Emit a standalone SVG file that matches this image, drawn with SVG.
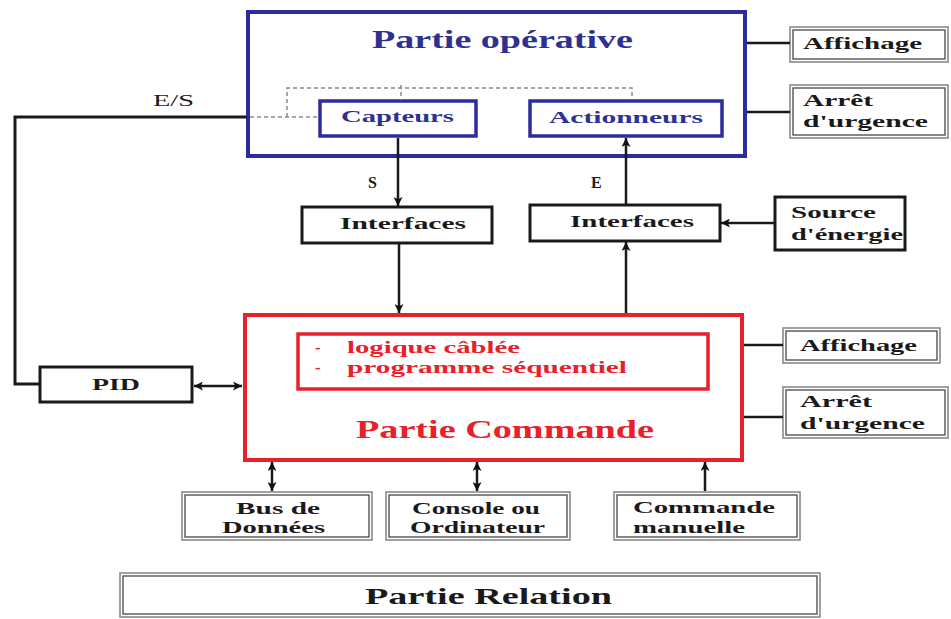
<svg xmlns="http://www.w3.org/2000/svg" width="951" height="619" viewBox="0 0 951 619">
<defs>
<marker id="ah" viewBox="0 0 10 10" refX="10" refY="5" markerWidth="10" markerHeight="9" markerUnits="userSpaceOnUse" orient="auto-start-reverse">
<path d="M0,0 L10,5 L0,10 L2.5,5 z" fill="#111"/>
</marker>
</defs>
<style>
text{font-family:"Liberation Serif","Times New Roman",serif;font-weight:bold;}
.blue{fill:#2e3192;}
.red{fill:#e8202a;}
.blk{fill:#1a1a1a;}
.t26{font-size:26px;}
.t24{font-size:24px;}
.t17{font-size:17px;}
.t16{font-size:16px;}
.bbox{fill:#fff;stroke:#2b2d9c;}
.rbox{fill:#fff;stroke:#e8202a;}
.kbox{fill:#fff;stroke:#1a1a1a;stroke-width:3;}
.dbo{fill:#fff;stroke:#8a8a8a;stroke-width:1.6;}
.dbi{fill:none;stroke:#555;stroke-width:1.4;}
.ln{fill:none;stroke:#1a1a1a;stroke-width:2.5;}
.dash{fill:none;stroke:#8a8a8a;stroke-width:1.5;stroke-dasharray:4 3;}
</style>
<rect width="951" height="619" fill="#fff"/>

<g id="partie-operative">
<rect class="bbox" x="248" y="12" width="497" height="144" stroke-width="4"/>
<text class="blue t26" x="372" y="48" textLength="261" lengthAdjust="spacingAndGlyphs">Partie opérative</text>
</g>
<g id="capteurs">
<rect class="bbox" x="320" y="101" width="156" height="35" stroke-width="3.5"/>
<text class="blue t17" x="341" y="122" textLength="113" lengthAdjust="spacingAndGlyphs">Capteurs</text>
</g>
<g id="actionneurs">
<rect class="bbox" x="530" y="101" width="192" height="35" stroke-width="3.5"/>
<text class="blue t17" x="549" y="123" textLength="154" lengthAdjust="spacingAndGlyphs">Actionneurs</text>
</g>

<g id="affichage-1">
<rect class="dbo" x="790" y="27" width="158" height="35"/>
<rect class="dbi" x="793" y="30" width="152" height="29"/>
<text class="blk t17" x="803" y="49" textLength="119" lengthAdjust="spacingAndGlyphs">Affichage</text>
</g>
<g id="arret-1">
<rect class="dbo" x="790" y="85" width="158" height="53"/>
<rect class="dbi" x="793" y="88" width="152" height="47"/>
<text class="blk t17" x="803" y="106" textLength="70" lengthAdjust="spacingAndGlyphs">Arrêt</text>
<text class="blk t17" x="803" y="127" textLength="125" lengthAdjust="spacingAndGlyphs">d'urgence</text>
</g>

<g id="interfaces-s">
<rect class="kbox" x="302" y="207" width="190" height="36"/>
<text class="blk t17" x="340" y="229" textLength="126" lengthAdjust="spacingAndGlyphs">Interfaces</text>
</g>
<g id="interfaces-e">
<rect class="kbox" x="530" y="205" width="190" height="36"/>
<text class="blk t17" x="570" y="227" textLength="124" lengthAdjust="spacingAndGlyphs">Interfaces</text>
</g>
<g id="source-energie">
<rect class="kbox" x="775" y="197" width="130" height="53"/>
<text class="blk t17" x="791" y="218" textLength="85" lengthAdjust="spacingAndGlyphs">Source</text>
<text class="blk t17" x="791" y="240" textLength="112" lengthAdjust="spacingAndGlyphs">d'énergie</text>
</g>

<g id="partie-commande">
<rect class="rbox" x="245" y="315" width="497" height="145" stroke-width="4"/>
<rect class="rbox" x="298" y="334" width="410" height="55" stroke-width="3.5"/>
<text class="red t17" x="315" y="353">-</text>
<text class="red t17" x="347" y="353" textLength="173" lengthAdjust="spacingAndGlyphs">logique câblée</text>
<text class="red t17" x="315" y="373">-</text>
<text class="red t17" x="347" y="373" textLength="280" lengthAdjust="spacingAndGlyphs">programme séquentiel</text>
<text class="red t26" x="356" y="438" textLength="298" lengthAdjust="spacingAndGlyphs">Partie Commande</text>
</g>

<g id="pid">
<rect class="kbox" x="40" y="367" width="152" height="35"/>
<text class="blk t16" x="92" y="390" textLength="48" lengthAdjust="spacingAndGlyphs">PID</text>
</g>

<g id="affichage-2">
<rect class="dbo" x="783" y="328" width="157" height="35"/>
<rect class="dbi" x="786" y="331" width="151" height="29"/>
<text class="blk t17" x="800" y="351" textLength="117" lengthAdjust="spacingAndGlyphs">Affichage</text>
</g>
<g id="arret-2">
<rect class="dbo" x="783" y="387" width="165" height="51"/>
<rect class="dbi" x="786" y="390" width="159" height="45"/>
<text class="blk t17" x="800" y="407" textLength="72" lengthAdjust="spacingAndGlyphs">Arrêt</text>
<text class="blk t17" x="800" y="429" textLength="125" lengthAdjust="spacingAndGlyphs">d'urgence</text>
</g>

<g id="bus-donnees">
<rect class="dbo" x="182" y="492" width="190" height="48"/>
<rect class="dbi" x="185" y="495" width="184" height="42"/>
<text class="blk t17" x="236" y="514" textLength="84" lengthAdjust="spacingAndGlyphs">Bus de</text>
<text class="blk t17" x="222" y="533" textLength="103" lengthAdjust="spacingAndGlyphs">Données</text>
</g>
<g id="console">
<rect class="dbo" x="386" y="492" width="184" height="48"/>
<rect class="dbi" x="389" y="495" width="178" height="42"/>
<text class="blk t17" x="412" y="514" textLength="128" lengthAdjust="spacingAndGlyphs">Console ou</text>
<text class="blk t17" x="410" y="533" textLength="135" lengthAdjust="spacingAndGlyphs">Ordinateur</text>
</g>
<g id="commande-manuelle">
<rect class="dbo" x="614" y="492" width="186" height="48"/>
<rect class="dbi" x="617" y="495" width="180" height="42"/>
<text class="blk t17" x="633" y="513" textLength="142" lengthAdjust="spacingAndGlyphs">Commande</text>
<text class="blk t17" x="633" y="533" textLength="112" lengthAdjust="spacingAndGlyphs">manuelle</text>
</g>

<g id="partie-relation">
<rect class="dbo" x="120" y="573" width="700" height="44"/>
<rect class="dbi" x="123" y="576" width="694" height="38"/>
<text class="blk t24" x="365" y="604" textLength="247" lengthAdjust="spacingAndGlyphs">Partie Relation</text>
</g>

<g id="connectors">
<polyline class="ln" points="247,117 15,117 15,384 40,384" style="stroke-width:3"/>
<path class="dash" d="M250,117 H320 M287,117 V88 H632 V100 M401,85 V100"/>
<line class="ln" x1="747" y1="43" x2="790" y2="43"/>
<line class="ln" x1="747" y1="112" x2="790" y2="112"/>
<line class="ln" x1="744" y1="345" x2="783" y2="345"/>
<line class="ln" x1="744" y1="417" x2="783" y2="417"/>
<line class="ln" x1="398" y1="138" x2="398" y2="206" marker-end="url(#ah)"/>
<line class="ln" x1="626" y1="204" x2="626" y2="138" marker-end="url(#ah)"/>
<line class="ln" x1="399" y1="244" x2="399" y2="313" marker-end="url(#ah)"/>
<line class="ln" x1="626" y1="313" x2="626" y2="242" marker-end="url(#ah)"/>
<line class="ln" x1="775" y1="223" x2="721" y2="223" marker-end="url(#ah)"/>
<line class="ln" x1="194" y1="386" x2="242" y2="386" marker-start="url(#ah)" marker-end="url(#ah)"/>
<line class="ln" x1="272" y1="462" x2="272" y2="491" marker-start="url(#ah)" marker-end="url(#ah)"/>
<line class="ln" x1="477" y1="462" x2="477" y2="491" marker-start="url(#ah)" marker-end="url(#ah)"/>
<line class="ln" x1="705" y1="491" x2="705" y2="462" marker-end="url(#ah)"/>
<text class="blk t16" x="153" y="106" textLength="41" lengthAdjust="spacingAndGlyphs" style="font-weight:normal">E/S</text>
<text class="blk t16" x="368" y="188">S</text>
<text class="blk t16" x="591" y="188">E</text>
</g>
</svg>
